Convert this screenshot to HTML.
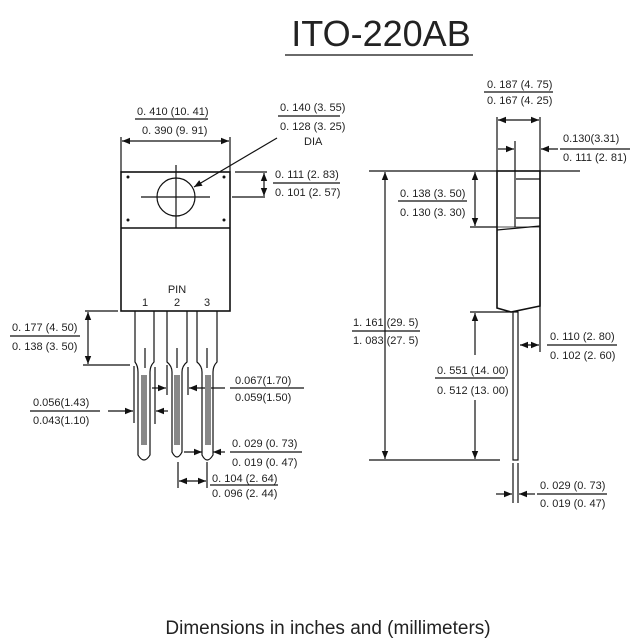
<!DOCTYPE html>
<html><head><meta charset="utf-8"><style>
html,body{margin:0;padding:0;background:#fff;}
svg{display:block;}
text{font-family:"Liberation Sans",sans-serif;fill:#222;}
.d{font-size:11px;}
</style></head><body>
<svg width="639" height="644" viewBox="0 0 639 644" xmlns="http://www.w3.org/2000/svg">
<defs>
<marker id="a" viewBox="0 0 10 10" refX="10" refY="5" markerWidth="8" markerHeight="8" orient="auto-start-reverse" markerUnits="userSpaceOnUse"><path d="M0,1 L10,5 L0,9 z" fill="#111"/></marker>
</defs>
<g stroke="#111" stroke-width="1.2" fill="none">
<line x1="285" y1="55" x2="473" y2="55"/>
<rect x="121" y="172" width="109" height="139" stroke-width="1.6"/>
<line x1="121" y1="228" x2="230" y2="228" stroke-width="1.6"/>
<circle cx="176" cy="197" r="19"/>
<line x1="141" y1="197" x2="210" y2="197"/>
<line x1="176" y1="165" x2="176" y2="228"/>
<line x1="121" y1="137" x2="121" y2="172"/>
<line x1="230" y1="137" x2="230" y2="172"/>
<line x1="122" y1="141" x2="229" y2="141" marker-start="url(#a)" marker-end="url(#a)"/>
<line x1="135" y1="119" x2="208" y2="119"/>
<line x1="278" y1="116" x2="340" y2="116"/>
<line x1="277" y1="138" x2="194" y2="187" marker-end="url(#a)"/>
<line x1="235" y1="172" x2="267" y2="172"/>
<line x1="232" y1="197" x2="265" y2="197"/>
<line x1="264" y1="173" x2="264" y2="196" marker-start="url(#a)" marker-end="url(#a)"/>
<line x1="273" y1="183" x2="340" y2="183"/>
<path d="M135,311 V362 Q138,366 138,372 V455 Q144,465 150,455 V372 Q150,366 154,362 V311"/>
<path d="M167,311 V362 Q172,366 172,372 V452 Q177,462 182,452 V372 Q182,366 187,362 V311"/>
<path d="M197,311 V362 Q202,366 202,372 V455 Q207,465 213,455 V372 Q213,366 217,362 V311"/>
<line x1="145" y1="348" x2="145" y2="368"/>
<line x1="177" y1="348" x2="177" y2="368"/>
<line x1="207" y1="348" x2="207" y2="368"/>
<line x1="85" y1="311" x2="118" y2="311"/>
<line x1="83" y1="365" x2="130" y2="365"/>
<line x1="88" y1="312" x2="88" y2="364" marker-start="url(#a)" marker-end="url(#a)"/>
<line x1="10" y1="336" x2="80" y2="336"/>
<line x1="30" y1="411" x2="100" y2="411"/>
<line x1="134" y1="366" x2="134" y2="423"/>
<line x1="155" y1="367" x2="155" y2="424"/>
<line x1="108" y1="411" x2="133" y2="411" marker-end="url(#a)"/>
<line x1="168" y1="411" x2="156" y2="411" marker-end="url(#a)"/>
<line x1="167" y1="365" x2="167" y2="395"/>
<line x1="188" y1="367" x2="188" y2="395"/>
<line x1="152" y1="388" x2="166" y2="388" marker-end="url(#a)"/>
<line x1="225" y1="388" x2="189" y2="388" marker-end="url(#a)"/>
<line x1="230" y1="388" x2="304" y2="388"/>
<line x1="184" y1="452" x2="202" y2="452" marker-end="url(#a)"/>
<line x1="225" y1="452" x2="213" y2="452" marker-end="url(#a)"/>
<line x1="230" y1="452" x2="302" y2="452"/>
<line x1="178" y1="462" x2="178" y2="488"/>
<line x1="207" y1="462" x2="207" y2="488"/>
<line x1="179" y1="481" x2="206" y2="481" marker-start="url(#a)" marker-end="url(#a)"/>
<line x1="210" y1="485" x2="278" y2="485"/>
<path d="M497,171 H540 V306 L511,312 L497,308 Z" stroke-width="1.6"/>
<line x1="497" y1="230" x2="540" y2="226"/>
<line x1="497" y1="227" x2="540" y2="227" stroke-width="0.8"/>
<line x1="515" y1="141" x2="515" y2="227"/>
<line x1="516" y1="179" x2="540" y2="179"/>
<line x1="516" y1="218" x2="540" y2="218"/>
<rect x="513" y="312" width="5" height="148"/>
<line x1="513" y1="463" x2="513" y2="503"/>
<line x1="518" y1="463" x2="518" y2="503"/>
<line x1="540" y1="117" x2="540" y2="352"/>
<line x1="497" y1="117" x2="497" y2="171"/>
<line x1="498" y1="120" x2="539" y2="120" marker-start="url(#a)" marker-end="url(#a)"/>
<line x1="484" y1="92" x2="553" y2="92"/>
<line x1="498" y1="149" x2="514" y2="149" marker-end="url(#a)"/>
<line x1="558" y1="149" x2="541" y2="149" marker-end="url(#a)"/>
<line x1="560" y1="149" x2="630" y2="149"/>
<line x1="369" y1="171" x2="580" y2="171"/>
<line x1="369" y1="460" x2="500" y2="460"/>
<line x1="385" y1="172" x2="385" y2="459" marker-start="url(#a)" marker-end="url(#a)"/>
<line x1="352" y1="331" x2="420" y2="331"/>
<line x1="475" y1="172" x2="475" y2="226" marker-start="url(#a)" marker-end="url(#a)"/>
<line x1="470" y1="227" x2="497" y2="227"/>
<line x1="398" y1="201" x2="467" y2="201"/>
<line x1="470" y1="312" x2="510" y2="312"/>
<line x1="475" y1="355" x2="475" y2="313" marker-end="url(#a)"/>
<line x1="475" y1="400" x2="475" y2="459" marker-end="url(#a)"/>
<line x1="435" y1="378" x2="505" y2="378"/>
<line x1="520" y1="345" x2="539" y2="345" marker-start="url(#a)" marker-end="url(#a)"/>
<line x1="547" y1="345" x2="617" y2="345"/>
<line x1="496" y1="494" x2="512" y2="494" marker-end="url(#a)"/>
<line x1="535" y1="494" x2="519" y2="494" marker-end="url(#a)"/>
<line x1="537" y1="494" x2="607" y2="494"/>
</g>
<g fill="#888">
<rect x="141" y="375" width="6" height="70"/>
<rect x="174" y="375" width="6" height="70"/>
<rect x="205" y="375" width="6" height="70"/>
</g>
<g fill="#111">
<circle cx="128" cy="177" r="1.5"/><circle cx="224" cy="177" r="1.5"/>
<circle cx="128" cy="220" r="1.5"/><circle cx="224" cy="220" r="1.5"/>
</g>
<text x="381" y="46" font-size="36" text-anchor="middle">ITO-220AB</text>
<text x="328" y="634" font-size="19" text-anchor="middle">Dimensions in inches and (millimeters)</text>
<g class="d">
<text x="137" y="115" class="d">0. 410 (10. 41)</text>
<text x="142" y="134" class="d">0. 390 (9. 91)</text>
<text x="280" y="111" class="d">0. 140 (3. 55)</text>
<text x="280" y="130" class="d">0. 128 (3. 25)</text>
<text x="304" y="145" class="d">DIA</text>
<text x="275" y="178" class="d">0. 111 (2. 83)</text>
<text x="275" y="196" class="d">0. 101 (2. 57)</text>
<text x="177" y="293" class="d" text-anchor="middle">PIN</text>
<text x="145" y="306" class="d" text-anchor="middle">1</text>
<text x="177" y="306" class="d" text-anchor="middle">2</text>
<text x="207" y="306" class="d" text-anchor="middle">3</text>
<text x="12" y="331" class="d">0. 177 (4. 50)</text>
<text x="12" y="350" class="d">0. 138 (3. 50)</text>
<text x="33" y="406" class="d">0.056(1.43)</text>
<text x="33" y="424" class="d">0.043(1.10)</text>
<text x="235" y="384" class="d">0.067(1.70)</text>
<text x="235" y="401" class="d">0.059(1.50)</text>
<text x="232" y="447" class="d">0. 029 (0. 73)</text>
<text x="232" y="466" class="d">0. 019 (0. 47)</text>
<text x="212" y="482" class="d">0. 104 (2. 64)</text>
<text x="212" y="497" class="d">0. 096 (2. 44)</text>
<text x="487" y="88" class="d">0. 187 (4. 75)</text>
<text x="487" y="104" class="d">0. 167 (4. 25)</text>
<text x="563" y="142" class="d">0.130(3.31)</text>
<text x="563" y="161" class="d">0. 111 (2. 81)</text>
<text x="400" y="197" class="d">0. 138 (3. 50)</text>
<text x="400" y="216" class="d">0. 130 (3. 30)</text>
<text x="353" y="326" class="d">1. 161 (29. 5)</text>
<text x="353" y="344" class="d">1. 083 (27. 5)</text>
<text x="437" y="374" class="d">0. 551 (14. 00)</text>
<text x="437" y="394" class="d">0. 512 (13. 00)</text>
<text x="550" y="340" class="d">0. 110 (2. 80)</text>
<text x="550" y="359" class="d">0. 102 (2. 60)</text>
<text x="540" y="489" class="d">0. 029 (0. 73)</text>
<text x="540" y="507" class="d">0. 019 (0. 47)</text>
</g>
</svg>
</body></html>
